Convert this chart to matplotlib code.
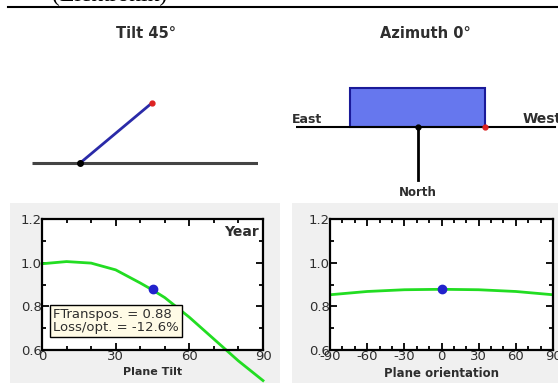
import numpy as np
import matplotlib
matplotlib.use("Agg")
from matplotlib import pyplot as plt
from matplotlib.patches import Rectangle
from matplotlib.ticker import MultipleLocator, FormatStrFormatter

plt.rcParams['axes.unicode_minus'] = False

# figure size in pixels
W, H = 558, 383

# current plane setting
TILT = 45
AZIMUTH = 0
FT_TRANSPOS = 0.88
LOSS_OPT = -12.6

# transposition factor vs tilt (yearly)
tilt_deg = [0, 10, 20, 30, 40, 45, 50, 60, 70, 80, 90]
tilt_ft = [0.995, 1.005, 0.998, 0.967, 0.907, 0.875, 0.84, 0.75, 0.65, 0.55, 0.46]

# transposition factor vs azimuth
azim_deg = [-90, -60, -30, 0, 30, 60, 90]
azim_ft = [0.853, 0.868, 0.876, 0.878, 0.876, 0.868, 0.853]

TXT = "#2e2e2e"
GREEN = "#22dd22"
DOT = "#2222cc"


def px_axes(fig, x0, y0, x1, y1):
    """axes placed by pixel box (top-left origin)"""
    return fig.add_axes([x0 / W, 1 - y1 / H, (x1 - x0) / W, (y1 - y0) / H])


def style_plot(ax, xmin, xmax):
    ax.set_xlim(xmin, xmax)
    ax.set_ylim(0.6, 1.2)
    ax.xaxis.set_major_locator(MultipleLocator(30))
    ax.xaxis.set_minor_locator(MultipleLocator(10))
    ax.yaxis.set_major_locator(MultipleLocator(0.2))
    ax.yaxis.set_minor_locator(MultipleLocator(0.1))
    ax.tick_params(which="both", direction="in", top=True, right=True,
                   width=1.3, colors="black", labelcolor=TXT, labelsize=9.5)
    ax.tick_params(which="major", length=5, pad=0)
    ax.tick_params(which="minor", length=3)
    ax.yaxis.set_major_formatter(FormatStrFormatter("%.1f"))
    for s in ax.spines.values():
        s.set_linewidth(1.6)
    ax.set_facecolor("white")


fig = plt.figure(figsize=(W / 100, H / 100), dpi=100)
fig.patch.set_facecolor("white")

# header remnant and rule
fig.text(52 / W, 1 - 1 / H, "(Elektronik)", family="Liberation Serif",
         fontsize=17, va="baseline", ha="left", color="black")
fig.add_artist(plt.Line2D([8 / W, 1], [1 - 7 / H, 1 - 7 / H], color="black", lw=1.5))

# gray panel backgrounds
fig.add_artist(Rectangle((10 / W, 0), 270 / W, (H - 203) / H, transform=fig.transFigure,
                         facecolor="#f0f0f0", edgecolor="none", zorder=-5))
fig.add_artist(Rectangle((292 / W, 0), (W - 292) / W, (H - 203) / H, transform=fig.transFigure,
                         facecolor="#f0f0f0", edgecolor="none", zorder=-5))

# ---- tilt diagram
fig.text(146 / W, 1 - 33 / H, "Tilt %d\u00b0" % TILT, ha="center", va="center",
         fontsize=10.5, fontweight="bold", color=TXT)
ax_t = px_axes(fig, 32, 95, 258, 175)
ax_t.set_xlim(-0.4715, 1.748)
ax_t.set_ylim(-0.14, 0.80)
ax_t.axis("off")
ax_t.plot([-0.4715, 1.748], [0, 0], color="#444444", lw=2.2, solid_capstyle="butt")
tx, ty = np.cos(np.radians(TILT)), np.sin(np.radians(TILT))
ax_t.plot([0, tx], [0, ty], color="#2a2aa8", lw=2)
ax_t.plot([0], [0], "o", color="black", ms=4)
ax_t.plot([tx], [ty], "o", color="#dd2222", ms=3.5)

# ---- azimuth diagram
fig.text(425 / W, 1 - 33 / H, "Azimuth %d\u00b0" % AZIMUTH, ha="center", va="center",
         fontsize=10.5, fontweight="bold", color=TXT)
ax_a = px_axes(fig, 296, 80, 558, 200)
ax_a.set_xlim(-1.8, 2.081)
ax_a.set_ylim(-1.081, 0.696)
ax_a.axis("off")
half = np.cos(np.radians(AZIMUTH))
ax_a.add_patch(Rectangle((-half, 0), 2 * half, 0.578, facecolor="#6677ee",
                         edgecolor="#1a1a99", lw=1.5))
ax_a.plot([-1.8, 2.03], [0, 0], color="black", lw=1.5)
ax_a.plot([0, 0], [0, -0.785], color="black", lw=2)
ax_a.plot([0], [0], "o", color="black", ms=3.5)
ax_a.plot([half], [0], "o", color="#dd2222", ms=3.5)
ax_a.text(-1.867, 0.06, "East", fontsize=9, fontweight="bold", color=TXT,
          ha="left", va="baseline", clip_on=False)
ax_a.text(1.55, 0.06, "West", fontsize=10, fontweight="bold", color=TXT,
          ha="left", va="baseline", clip_on=False)
ax_a.text(0, -0.963, "North", fontsize=8.5, fontweight="bold", color=TXT,
          ha="center", va="center", clip_on=False)

# ---- FT vs tilt
ax1 = px_axes(fig, 42, 219, 263, 350)
style_plot(ax1, 0, 90)
ax1.plot(tilt_deg, tilt_ft, color=GREEN, lw=2, clip_on=False)
ax1.plot([TILT], [FT_TRANSPOS], "o", color=DOT, ms=6)
ax1.set_xlabel("Plane Tilt", fontsize=8, fontweight="bold", color=TXT, labelpad=3)
ax1.text(0.98, 0.9, "Year", transform=ax1.transAxes, ha="right", va="center",
         fontsize=10, fontweight="bold", color=TXT)
ax1.text(0.05, 0.22, "FTranspos. = %.2f\nLoss/opt. = %.1f%%" % (FT_TRANSPOS, LOSS_OPT),
         transform=ax1.transAxes, ha="left", va="center", fontsize=9.5, color=TXT,
         linespacing=1.0,
         bbox=dict(boxstyle="square,pad=0.25", facecolor="#fffbe6", edgecolor="black", lw=1))

# ---- FT vs azimuth
ax2 = px_axes(fig, 330, 219, 553, 350)
style_plot(ax2, -90, 90)
ax2.plot(azim_deg, azim_ft, color=GREEN, lw=2)
ax2.plot([AZIMUTH], [FT_TRANSPOS], "o", color=DOT, ms=6)
ax2.set_xlabel("Plane orientation", fontsize=8.5, fontweight="bold", color=TXT, labelpad=3)

fig.savefig("out.png", dpi=100)
